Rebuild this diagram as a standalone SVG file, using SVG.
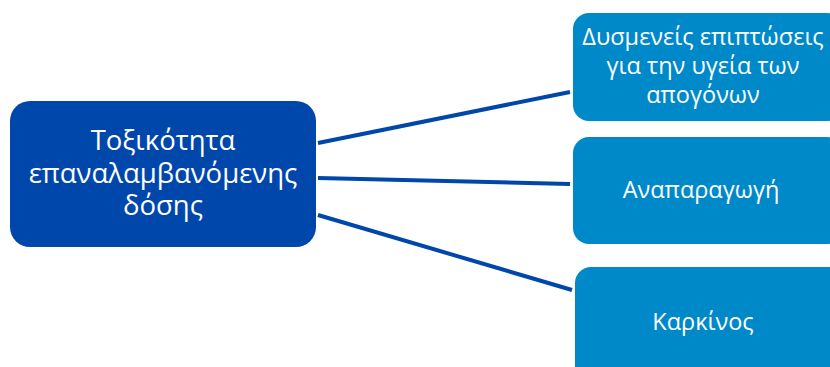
<svg xmlns="http://www.w3.org/2000/svg" width="830" height="367" viewBox="0 0 830 367">
<style>
.main{fill:#0047AB}
.sub{fill:#0089C9}
.t{fill:#fff;font-family:"Open Sans","Noto Sans",sans-serif;text-anchor:middle}
.big{font-size:27.5px}
.sm{font-size:23.5px}
.c{stroke:#0047AB;stroke-width:4;fill:none}
</style>
<rect width="830" height="367" fill="#fff"/>
<g id="connectors">
<line class="c" x1="318" y1="143" x2="570" y2="92"/>
<line class="c" x1="318" y1="178" x2="570" y2="184"/>
<line class="c" x1="318" y1="215" x2="572" y2="290"/>
</g>
<g id="node-main">
<rect class="main" x="10" y="101" width="306" height="146" rx="20"/>
<text class="t big" x="163" y="150">Τοξικότητα</text>
<text class="t big" x="163" y="183">επαναλαμβανόμενης</text>
<text class="t big" x="163" y="215">δόσης</text>
</g>
<g id="node-offspring">
<rect class="sub" x="573" y="13" width="270" height="108" rx="16"/>
<text class="t sm" x="703" y="45">Δυσμενείς επιπτώσεις</text>
<text class="t sm" x="703" y="74">για την υγεία των</text>
<text class="t sm" x="703" y="103">απογόνων</text>
</g>
<g id="node-reproduction">
<rect class="sub" x="573" y="137" width="270" height="107" rx="16"/>
<text class="t sm" x="701" y="198">Αναπαραγωγή</text>
</g>
<g id="node-cancer">
<rect class="sub" x="575" y="267" width="270" height="120" rx="16"/>
<text class="t sm" x="703" y="330">Καρκίνος</text>
</g>
</svg>
